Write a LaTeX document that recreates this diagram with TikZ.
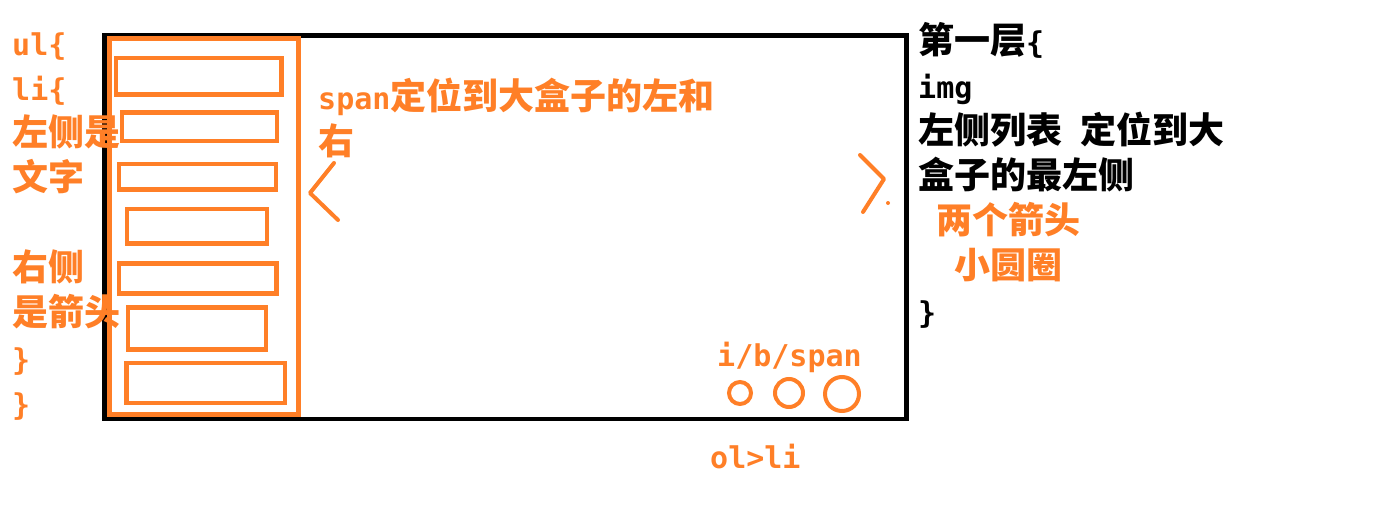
\documentclass[tikz,border=0pt]{standalone}
\usepackage{fontspec}
\setmainfont{DejaVu Sans Mono}
\newfontfamily\zhfont{Noto Sans CJK SC}
\usepackage{xcolor}
\definecolor{naranja}{RGB}{255, 127, 39}
\usepackage{tikz}
\newcommand{\zh}[1]{{\zhfont\fontsize{36}{45}\selectfont #1}}

\begin{document}
\begin{tikzpicture}[x=1pt, y=-1pt,
  caja/.style={draw=black, line width=4.5pt},
  lista/.style={draw=naranja, line width=5pt},
  fila/.style={draw=naranja, line width=4.5pt},
  flecha/.style={draw=naranja, line width=4pt, line cap=round, line join=round},
  bolita/.style={draw=naranja, line width=4pt},
  nota/.style={inner sep=0pt, anchor=base west, align=left, text=naranja, font=\bfseries\fontsize{30}{45}\selectfont},
  negro/.style={nota, text=black}
]
  \useasboundingbox (0,0) rectangle (1382,524);

  % caja grande y lista de la izquierda
  \draw[caja] (104.7,35.5) rectangle (906.5,419);
  \draw[lista] (109,39) rectangle (298.5,414);
  \draw[fila] (116,58) rectangle (281.5,94.5);
  \draw[fila] (122,112.5) rectangle (277,141);
  \draw[fila] (119,164) rectangle (276,189.5);
  \draw[fila] (127,209) rectangle (267,243.5);
  \draw[fila] (119,263.5) rectangle (276.5,293.5);
  \draw[fila] (128,307.5) rectangle (266,349.5);
  \draw[fila] (126.5,363) rectangle (285,403);

  % flechas
  \draw[flecha] (334,163) -- (310,193) -- (338,220);
  \draw[flecha] (860,155) -- (884,179) -- (863,212);
  \fill[naranja] (888,203) circle[radius=2pt];

  % circulitos
  \draw[bolita] (740,393) circle[radius=11pt];
  \draw[bolita] (789,393) circle[radius=14pt];
  \draw[bolita] (842,394) circle[radius=17pt];

  % base = ultima linea del nodo
  \node[nota] (ul) at (12,415) {ul\{\\li\{\\\zh{左侧是}\\\zh{文字}\\\mbox{}\\\zh{右侧}\\\zh{是箭头}\\\}\\\}};
  \node[nota] (span) at (318,155) {span\zh{定位到大盒子的左和}\\\zh{右}};
  \node[negro] (capa) at (918,323) {\zh{第一层}\{\\img\\\zh{左侧列表} \zh{定位到大}\\\zh{盒子的最左侧}\\\hspace*{18pt}\textcolor{naranja}{\zh{两个箭头}}\\\hspace*{36pt}\textcolor{naranja}{\zh{小圆圈}}\\\}};
  \node[nota] (ibs) at (717,366) {i/b/span};
  \node[nota] (olli) at (710,468) {ol>li};
\end{tikzpicture}
\end{document}
